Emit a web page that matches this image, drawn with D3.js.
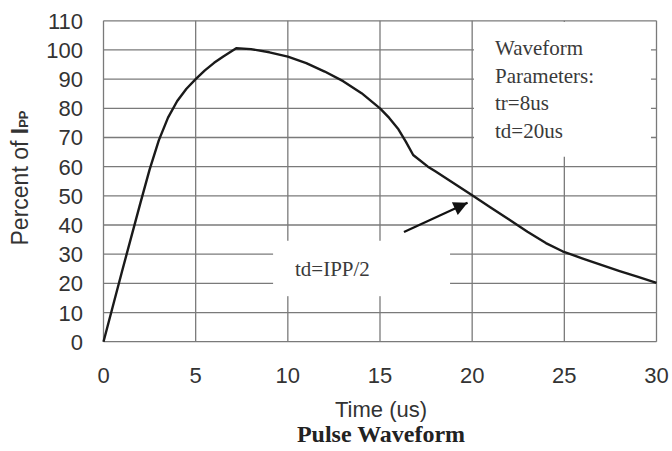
<!DOCTYPE html>
<html>
<head>
<meta charset="utf-8">
<script src="https://cdn.jsdelivr.net/npm/d3@7"></script>
<style>
	body { margin: 0; background: #fff; }
	svg { display: block; }
</style>
</head>
<body>
<svg id="chart" width="672" height="451"></svg>
<script>

WIDTH	= 672;
HEIGHT	= 451;

// waveform (time in us, percent of Ipp)
var timeUs		= [0, 1, 2, 2.5, 3, 3.5, 4, 4.5, 5, 5.5, 6, 6.5, 7.2, 8, 9, 10, 11, 12, 13, 14, 15, 15.5, 16, 16.4, 16.8, 17.6, 18, 19, 20, 21, 22, 23, 24, 24.9, 26, 27, 28, 29, 30];
var percentIpp	= [0, 24, 47.5, 59, 69, 76.8, 82.5, 86.7, 90, 93, 95.6, 97.8, 100.6, 100.3, 99.2, 97.7, 95.5, 92.6, 89.3, 85.2, 80, 76.7, 72.8, 68.6, 64, 60, 58.4, 54.3, 50.2, 46, 41.9, 37.7, 33.8, 31, 28.5, 26.3, 24.2, 22.2, 20.2];

var xTicks		= [0, 5, 10, 15, 20, 25, 30];
var yTicks		= [0, 10, 20, 30, 40, 50, 60, 70, 80, 90, 100, 110];

var paramLines	= ["Waveform", "Parameters:", "tr=8us", "td=20us"];
var tdLabel		= "td=IPP/2";
var xTitle		= "Time (us)";
var chartTitle	= "Pulse Waveform";

// arrow pointing at the half value, in data units
var arrowFrom	= { t: 16.3, v: 37.6 };
var arrowTo		= { t: 19.75, v: 47.6 };

// white boxes behind the two notes, in data units
var noteBoxes	= [
	{ t0: 20.1, t1: 29.7, v0: 63.4, v1: 109.6 },
	{ t0: 9.2, t1: 18.8, v0: 15.6, v1: 34.6 }
];

function main() {

	var svg = d3.select('#chart');

	var x = d3.scaleLinear().domain([0, 30]).range([103.5, 656.5]);
	var y = d3.scaleLinear().domain([0, 110]).range([341.7, 20.8]);

	var gridColor = "#7a7a7a";

	// grid
	svg.append("g").selectAll("line.h")
		.data(yTicks)
		.join("line")
		.attr("x1", x(0))
		.attr("x2", x(30))
		.attr("y1", function(d) { return y(d); })
		.attr("y2", function(d) { return y(d); })
		.attr("stroke", gridColor)
		.attr("stroke-width", 1.3);

	svg.append("g").selectAll("line.v")
		.data(xTicks)
		.join("line")
		.attr("y1", y(0))
		.attr("y2", y(110))
		.attr("x1", function(d) { return x(d); })
		.attr("x2", function(d) { return x(d); })
		.attr("stroke", gridColor)
		.attr("stroke-width", 1.3);

	// note boxes hide the grid behind the text
	svg.append("g").selectAll("rect")
		.data(noteBoxes)
		.join("rect")
		.attr("x", function(d) { return x(d.t0); })
		.attr("y", function(d) { return y(d.v1); })
		.attr("width", function(d) { return x(d.t1) - x(d.t0); })
		.attr("height", function(d) { return y(d.v0) - y(d.v1); })
		.attr("fill", "#fff");

	// tick labels
	var tickFont = "Liberation Sans, Arial, sans-serif";

	svg.append("g").selectAll("text")
		.data(yTicks)
		.join("text")
		.attr("x", 83)
		.attr("y", function(d) { return y(d) + 8; })
		.attr("text-anchor", "end")
		.attr("font-family", tickFont)
		.attr("font-size", 22)
		.attr("fill", "#333")
		.text(function(d) { return d; });

	svg.append("g").selectAll("text")
		.data(xTicks)
		.join("text")
		.attr("x", function(d) { return x(d); })
		.attr("y", 383)
		.attr("text-anchor", "middle")
		.attr("font-family", tickFont)
		.attr("font-size", 22)
		.attr("fill", "#333")
		.text(function(d) { return d; });

	// axis titles
	svg.append("text")
		.attr("x", 381)
		.attr("y", 417)
		.attr("text-anchor", "middle")
		.attr("font-family", tickFont)
		.attr("font-size", 22)
		.attr("fill", "#333")
		.text(xTitle);

	var yTitle = svg.append("text")
		.attr("transform", "translate(28,178) rotate(-90)")
		.attr("text-anchor", "middle")
		.attr("font-family", tickFont)
		.attr("font-size", 23)
		.attr("fill", "#333");

	yTitle.append("tspan").text("Percent of ");
	yTitle.append("tspan").attr("font-weight", "bold").text("I");
	yTitle.append("tspan").attr("font-size", 13).attr("font-weight", "bold").text("PP");

	svg.append("text")
		.attr("x", 381)
		.attr("y", 442)
		.attr("text-anchor", "middle")
		.attr("font-family", "Liberation Serif, Times New Roman, serif")
		.attr("font-weight", "bold")
		.attr("font-size", 24)
		.attr("fill", "#222")
		.text(chartTitle);

	// the waveform, straight segments like the source plot
	var line = d3.line()
		.x(function(d) { return x(d[0]); })
		.y(function(d) { return y(d[1]); });

	svg.append("path")
		.datum(d3.zip(timeUs, percentIpp))
		.attr("d", line)
		.attr("fill", "none")
		.attr("stroke", "#1a1a1a")
		.attr("stroke-width", 2.4)
		.attr("stroke-linejoin", "round");

	// notes
	var noteFont = "Liberation Serif, Times New Roman, serif";

	svg.append("g").selectAll("text")
		.data(paramLines)
		.join("text")
		.attr("x", 495)
		.attr("y", function(d, i) { return 55 + i * 27.6; })
		.attr("font-family", noteFont)
		.attr("font-size", 21)
		.attr("fill", "#3a3a3a")
		.text(function(d) { return d; });

	svg.append("text")
		.attr("x", 295)
		.attr("y", 276)
		.attr("font-family", noteFont)
		.attr("font-size", 21)
		.attr("fill", "#3a3a3a")
		.text(tdLabel);

	svg.append("defs").append("marker")
		.attr("id", "head")
		.attr("markerUnits", "userSpaceOnUse")
		.attr("viewBox", "0 0 10 10")
		.attr("refX", 10)
		.attr("refY", 5)
		.attr("markerWidth", 16)
		.attr("markerHeight", 14)
		.attr("orient", "auto")
		.append("path")
		.attr("d", "M0,0 L10,5 L0,10 Z")
		.attr("fill", "#111");

	svg.append("line")
		.attr("x1", x(arrowFrom.t))
		.attr("y1", y(arrowFrom.v))
		.attr("x2", x(arrowTo.t))
		.attr("y2", y(arrowTo.v))
		.attr("stroke", "#111")
		.attr("stroke-width", 2.2)
		.attr("marker-end", "url(#head)");
}

main();
</script>
</body>
</html>
